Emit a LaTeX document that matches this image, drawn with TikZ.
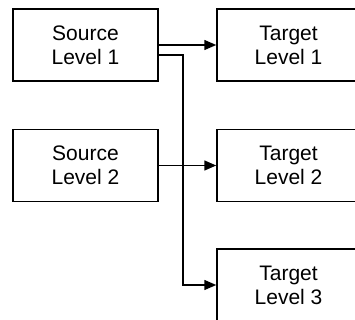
\documentclass[tikz,border=0pt]{standalone}
\usepackage{fontspec}
\setmainfont{Liberation Sans}
\usetikzlibrary{arrows.meta}
\begin{document}
\begin{tikzpicture}[x=1pt,y=-1pt,
  box/.style={draw=black,line width=1.5pt,minimum width=145pt,minimum height=72pt,inner sep=0pt,align=center,font=\fontsize{21}{24}\selectfont},
  conn/.style={line width=1.5pt,-{Triangle[length=12pt,width=10pt]}}]
\clip (0,0) rectangle (355,320);
\fill[white] (0,0) rectangle (355,320);
\node[box] (s1) at (85.5,45) {Source\\Level 1};
\node[box] (s2) at (85.5,165.5) {Source\\Level 2};
\node[box,minimum width=143pt] (t1) at (288.5,45) {Target\\Level 1};
\node[box,minimum width=143pt] (t2) at (288.5,165.5) {Target\\Level 2};
\node[box,minimum width=143pt] (t3) at (288.5,285) {Target\\Level 3};
\draw[conn] (s1.east) -- (t1.west);
\draw[conn] ([yshift=-10pt]s1.east) -- ++(24,0) |- (t3.west);
\draw[conn] (s2.east) -- (t2.west);
\end{tikzpicture}
\end{document}
